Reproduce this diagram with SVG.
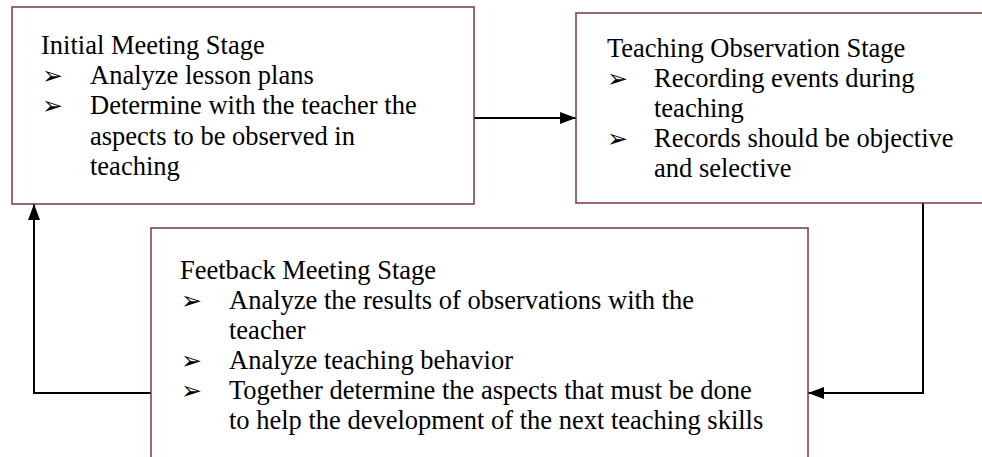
<svg xmlns="http://www.w3.org/2000/svg" width="982" height="457" viewBox="0 0 982 457">
<style>
.box{fill:#fff;stroke:#7a3a3a;stroke-width:1.5}
.t{font-family:"Liberation Serif","Times New Roman",serif;font-size:26.5px;fill:#000}
.b{font-family:"DejaVu Sans",sans-serif;font-size:25px;fill:#000}
.c{fill:none;stroke:#000;stroke-width:2}
</style>
<defs>
<marker id="ah" viewBox="0 0 16 12" refX="16" refY="6" markerWidth="16" markerHeight="12" markerUnits="userSpaceOnUse" orient="auto">
<path d="M0,0 L16,6 L0,12 Z" fill="#000"/>
</marker>
</defs>
<g id="connectors">
<line class="c" x1="474" y1="118" x2="576" y2="118" marker-end="url(#ah)"/>
<polyline class="c" points="923,203 923,393 808,393" marker-end="url(#ah)"/>
<polyline class="c" points="151,393 34,393 34,204" marker-end="url(#ah)"/>
</g>
<g id="initial">
<rect class="box" x="12" y="7" width="462" height="197"/>
<text class="t" x="41" y="54">Initial Meeting Stage</text>
<text class="b" x="42" y="84">➢</text>
<text class="t" x="90" y="84">Analyze lesson plans</text>
<text class="b" x="42" y="114">➢</text>
<text class="t" x="90" y="114">Determine with the teacher the</text>
<text class="t" x="90" y="145">aspects to be observed in</text>
<text class="t" x="90" y="175">teaching</text>
</g>
<g id="observation">
<rect class="box" x="576" y="13" width="420" height="190"/>
<text class="t" x="607" y="57">Teaching Observation Stage</text>
<text class="b" x="607" y="87">➢</text>
<text class="t" x="654" y="87">Recording events during</text>
<text class="t" x="654" y="117">teaching</text>
<text class="b" x="607" y="147">➢</text>
<text class="t" x="654" y="147">Records should be objective</text>
<text class="t" x="654" y="177">and selective</text>
</g>
<g id="feedback">
<rect class="box" x="151" y="228" width="657" height="250"/>
<text class="t" x="180" y="279">Feetback Meeting Stage</text>
<text class="b" x="181" y="309">➢</text>
<text class="t" x="229" y="309">Analyze the results of observations with the</text>
<text class="t" x="229" y="339">teacher</text>
<text class="b" x="181" y="369">➢</text>
<text class="t" x="229" y="369">Analyze teaching behavior</text>
<text class="b" x="181" y="399">➢</text>
<text class="t" x="229" y="399">Together determine the aspects that must be done</text>
<text class="t" x="229" y="429">to help the development of the next teaching skills</text>
</g>
</svg>
